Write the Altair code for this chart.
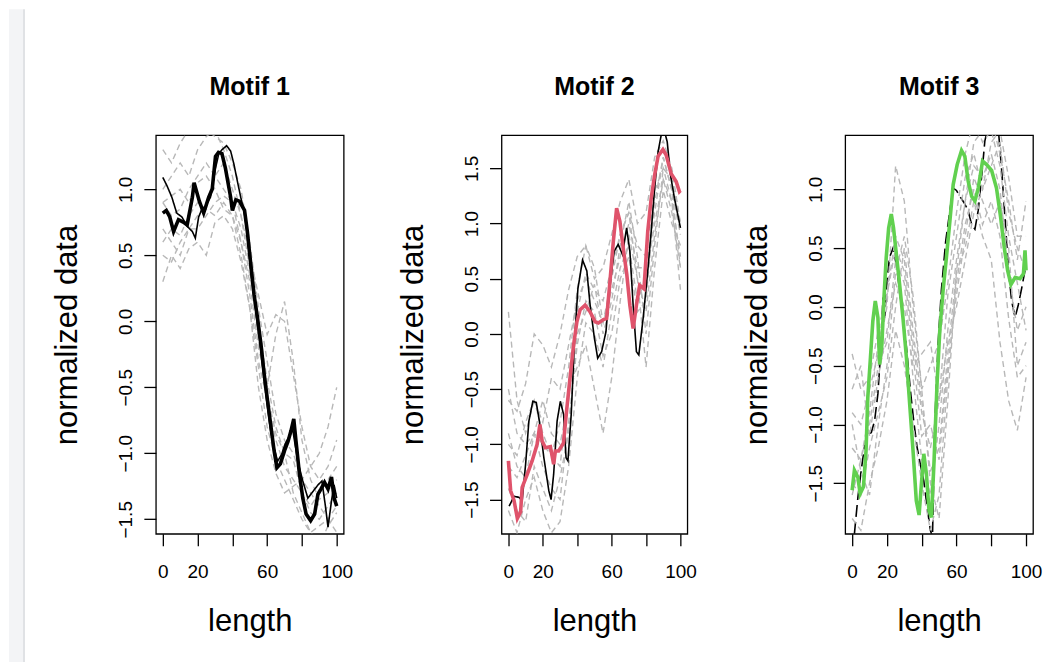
import altair as alt
import pandas as pd

# ---------------- data ----------------
GX = list(range(0, 101, 5))  # x grid for the grey (dashed) instances

# Motif 1
M1_THICK_X = [0, 2, 4, 6.2, 9, 12, 14, 17, 18, 21, 23.5, 26.4, 28.4, 30.3, 32, 34, 36, 39, 40, 42, 44, 47, 48.6,
              50.6, 52.5, 54.4, 56.4, 58.3, 60.2, 62, 64, 65.6, 67.6, 70, 72, 73.7, 75.3, 76.6, 78.6, 80.5, 82.4,
              85, 87.3, 89.2, 91, 93, 95, 97, 98.5, 100]
M1_THICK_Y = [0.82, 0.84, 0.79, 0.68, 0.77, 0.75, 0.73, 0.94, 1.05, 0.91, 0.82, 0.94, 1.0, 1.25, 1.28, 1.27, 1.16,
              0.94, 0.84, 0.92, 0.91, 0.84, 0.68, 0.43, 0.20, 0.03, -0.17, -0.40, -0.60, -0.78, -0.98, -1.11, -1.08,
              -0.98, -0.91, -0.83, -0.74, -0.91, -1.16, -1.34, -1.46, -1.51, -1.46, -1.31, -1.27, -1.22, -1.27,
              -1.18, -1.34, -1.40]
M1_THIN_X = [0, 2.3, 5.2, 8, 11, 14, 17, 18.7, 20.6, 22.5, 24.5, 27.4, 30.3, 32.2, 34, 36.7, 39, 40.9, 42.9, 44.8,
             46.7, 48.6, 50.6, 52.5, 54.4, 56.4, 58.3, 60.2, 62, 64, 66, 68.3, 70.3, 72.8, 74.7, 77.6, 80.5, 83.4,
             86.3, 89.2, 91.5, 93.4, 95, 97, 98.5, 100]
M1_THIN_Y = [1.09, 1.03, 0.94, 0.82, 0.79, 0.72, 0.68, 0.63, 0.79, 0.85, 0.87, 0.94, 1.16, 1.27, 1.30, 1.33, 1.29,
             1.19, 1.06, 0.94, 0.84, 0.66, 0.38, 0.18, -0.02, -0.22, -0.45, -0.65, -0.83, -0.96, -1.06, -1.01,
             -0.93, -0.87, -0.82, -1.06, -1.21, -1.34, -1.29, -1.24, -1.21, -1.39, -1.56, -1.36, -1.24, -1.34]
M1_GREY = [
    [0.9, 0.8, 0.85, 1.0, 1.1, 1.2, 1.1, 1.0, 0.9, 0.6, 0.2, -0.3, -0.6, -0.9, -1.1, -1.2, -1.3, -1.45, -1.5, -1.4, -1.3],
    [1.3, 1.2, 1.35, 1.45, 1.5, 1.45, 1.4, 1.35, 1.2, 1.0, 0.6, 0.1, -0.3, -0.7, -0.9, -1.0, -1.2, -1.3, -1.4, -1.5, -1.4],
    [0.3, 0.5, 0.4, 0.55, 0.6, 0.5, 0.75, 0.8, 0.7, 0.45, 0.1, -0.35, -0.8, -1.05, -1.2, -1.35, -1.5, -1.6, -1.55, -1.5, -1.6],
    [0.7, 0.6, 0.5, 0.7, 0.8, 0.9, 1.1, 1.2, 1.0, 0.8, 0.5, 0.2, -0.1, 0.05, 0.0, -0.4, -0.8, -1.1, -1.2, -1.1, -0.9],
    [0.9, 0.95, 1.0, 0.9, 1.05, 1.1, 1.0, 0.85, 0.8, 0.6, 0.3, -0.2, -0.5, -0.1, 0.15, -0.3, -0.9, -1.2, -1.35, -1.3, -1.2],
    [0.6, 0.7, 0.65, 0.8, 0.9, 0.85, 0.8, 0.9, 0.8, 0.5, 0.1, -0.5, -0.9, -1.15, -1.3, -1.25, -1.2, -1.1, -1.0, -0.8, -0.5],
    [1.0, 1.1, 1.2, 1.1, 1.3, 1.4, 1.45, 1.3, 1.1, 0.8, 0.4, -0.15, -0.55, -0.85, -1.0, -1.3, -1.45, -1.6, -1.7, -1.55, -1.45],
    [0.5, 0.45, 0.6, 0.7, 0.7, 0.8, 0.9, 0.95, 0.9, 0.7, 0.35, 0.0, -0.45, -0.8, -1.0, -1.05, -1.3, -1.4, -1.3, -1.2, -1.1],
]

# Motif 2
M2_THICK_X = [0, 1.3, 3.3, 5.2, 7.1, 8, 11, 13.8, 16.7, 18.3, 19.6, 21.5, 24.4, 26.3, 27.3, 29.2, 32, 34, 36, 37.9,
              39.8, 41.7, 44.6, 47.5, 50.4, 52.3, 55.2, 57.1, 59, 61, 62.9, 64.8, 66.7, 68.8, 70.6, 72.5, 74.4,
              76.3, 78.8, 81, 83, 85, 87, 89.8, 91.7, 94.6, 97.5, 99.4, 100]
M2_THICK_Y = [-1.15, -1.42, -1.51, -1.67, -1.61, -1.39, -1.27, -1.15, -1.0, -0.82, -0.97, -1.03, -1.02, -1.18,
              -1.06, -1.06, -0.99, -0.67, -0.37, -0.10, 0.11, 0.22, 0.26, 0.20, 0.11, 0.10, 0.13, 0.14, 0.47, 0.84,
              1.14, 1.02, 0.78, 0.54, 0.26, 0.05, 0.26, 0.44, 0.41, 0.93, 1.23, 1.44, 1.61, 1.67, 1.62, 1.45, 1.38,
              1.29, 1.30]
M2_THIN_X = [0.4, 3.3, 6.2, 8, 10, 11.9, 14.2, 16.2, 18, 20.6, 23.5, 24.8, 26.3, 28.3, 30.2, 32.1, 33.5, 34.6, 36.5,
             38.5, 40.4, 43.1, 45.6, 47.5, 50, 51.9, 54.2, 56.7, 59, 61.5, 63.8, 66.3, 68.7, 70.6, 72.5, 74.4, 75.8,
             78.3, 81, 83, 85, 87, 88.8, 90.8, 92.3, 94.2, 96.5, 100]
M2_THIN_Y = [-1.56, -1.47, -1.48, -1.51, -1.18, -0.79, -0.61, -0.62, -0.79, -1.12, -1.42, -1.5, -1.27, -0.79,
             -0.61, -0.73, -1.12, -1.15, -0.73, -0.04, 0.41, 0.67, 0.57, 0.26, -0.04, -0.22, -0.16, 0.02, 0.44, 0.75,
             0.81, 0.72, 0.96, 0.75, 0.26, -0.16, -0.19, 0.14, 0.57, 0.93, 1.32, 1.65, 1.80, 1.83, 1.74, 1.44, 1.23,
             0.96]
M2_GREY = [
    [-0.6, -0.7, -0.45, 0.0, -0.1, -0.3, 0.0, 0.4, 0.7, 0.8, 0.5, 0.6, 0.9, 1.2, 1.4, 1.0, 1.1, 1.6, 1.75, 1.5, 1.0],
    [0.2, -0.6, -0.9, -0.6, -0.8, -0.4, -0.5, -0.1, 0.3, 0.5, 0.3, 0.1, 0.5, 0.9, 1.1, 0.8, 0.7, 1.3, 1.5, 1.2, 0.7],
    [-1.6, -1.8, -1.5, -1.3, -1.6, -1.8, -1.7, -1.2, -0.4, 0.1, 0.0, -0.3, 0.2, 0.6, 0.8, 0.3, 0.5, 1.0, 1.4, 1.1, 0.6],
    [-1.2, -1.3, -1.1, -0.9, -1.2, -1.4, -1.5, -0.8, -0.1, 0.3, 0.2, -0.2, 0.0, 0.5, 0.7, 0.2, 0.3, 1.2, 1.6, 1.3, 0.9],
    [-1.0, -1.1, -0.8, -0.6, -0.9, -1.1, -1.2, -0.5, -0.3, -0.1, -0.5, -0.9, -0.4, 0.3, 0.9, 0.5, 0.2, 0.9, 1.4, 1.2, 0.4],
    [-0.9, -1.2, -1.3, -0.9, -0.6, -0.9, -1.0, -0.6, 0.2, 0.55, 0.4, 0.3, 0.6, 0.9, 1.1, 0.5, -0.3, 0.6, 1.3, 1.0, 0.8],
    [-1.4, -1.6, -1.7, -1.2, -1.4, -1.6, -1.3, -0.9, 0.0, 0.2, 0.45, 0.0, 0.3, 0.8, 1.2, 0.7, 0.0, 0.8, 1.5, 1.4, 1.0],
    [-0.5, -0.9, -1.0, -0.9, -1.0, -1.1, -0.8, -0.3, 0.4, 0.8, 0.6, 0.1, 0.4, 0.7, 1.0, 0.6, 0.6, 1.1, 1.6, 1.3, 0.6],
]

# Motif 3
M3_THICK_X = [0, 1.3, 3.3, 4.6, 6.5, 8, 9, 10.4, 11.9, 13.3, 14.8, 15.8, 17.1, 18.3, 19.6, 21, 22.5, 23.8, 25.4,
              27.3, 29.2, 31.2, 33.1, 35, 36.9, 38.5, 39.8, 41.2, 42.7, 44.2, 45.6, 47.1, 48.8, 50.4, 52.3, 54.2,
              56.2, 58.1, 60.4, 62.9, 64.8, 66.7, 68.7, 70.6, 72.5, 75, 77.3, 80.2, 83, 85.4, 87.5, 89.4, 91.3,
              93.7, 96.5, 98.5, 99.4, 100]
M3_THICK_Y = [-1.56, -1.39, -1.45, -1.59, -1.53, -1.22, -0.77, -0.46, -0.12, 0.05, -0.09, -0.49, -0.32, 0.08, 0.42,
              0.67, 0.79, 0.67, 0.45, 0.19, -0.09, -0.43, -0.83, -1.22, -1.65, -1.77, -1.51, -1.25, -1.42, -1.73,
              -1.79, -1.31, -0.66, -0.20, 0.14, 0.42, 0.73, 1.04, 1.21, 1.33, 1.28, 1.07, 0.94, 0.90, 1.01, 1.24,
              1.21, 1.16, 1.01, 0.76, 0.50, 0.31, 0.19, 0.25, 0.24, 0.28, 0.48, 0.31]
M3_THIN_X = [1.3, 3.3, 5.2, 7.1, 9, 11, 12.9, 14.8, 16.7, 17.7, 18.7, 20, 21.5, 23.5, 25.4, 27.3, 29.2, 31.2, 33.5,
             35.4, 37.3, 39.2, 41.2, 43.1, 45, 46.2, 47.5, 49.4, 51.3, 53.8, 56.2, 58.1, 60, 61.9, 64.2, 66.7, 68.7,
             70.6, 72.5, 74.4, 76.3, 77.7, 84, 86, 87.9, 89.8, 91.7, 93.7, 95.6, 97.5, 99.4]
M3_THIN_Y = [-1.93, -1.62, -1.39, -1.19, -1.08, -1.07, -0.97, -0.74, -0.32, 0.08, -0.09, 0.22, 0.42, 0.50, 0.36,
             0.14, -0.09, -0.34, -0.71, -0.97, -1.19, -1.34, -1.48, -1.70, -1.90, -1.96, -1.0, -0.32, 0.14, 0.56,
             0.82, 1.01, 0.99, 0.94, 0.89, 0.82, 0.70, 0.66, 0.82, 1.10, 1.41, 1.50, 1.52, 1.16, 0.76, 0.33, 0.05,
             -0.09, 0.02, 0.16, 0.31]
M3_GREY = [
    [-0.4, -0.7, -0.6, -0.2, 0.1, 0.6, 0.4, -0.3, -0.9, -1.2, -0.8, 0.1, 0.6, 1.1, 1.3, 1.0, 1.2, 1.4, 0.8, 0.5, 0.3],
    [-0.9, -1.0, -0.7, -0.4, 0.0, 1.2, 0.9, 0.0, -0.7, -0.5, -0.3, 0.2, 0.8, 1.3, 1.6, 1.4, 1.5, 1.2, 0.6, 0.2, -0.2],
    [-1.8, -1.9, -1.5, -1.2, -0.8, -0.2, -0.5, -1.0, -1.5, -1.9, -1.6, -0.6, 0.2, 0.7, 1.0, 0.7, 0.9, 0.6, -0.1, -0.6, -0.5],
    [-1.2, -1.3, -1.0, -0.5, -0.3, 0.4, 0.2, -0.6, -1.3, -1.6, -1.0, -0.2, 0.4, 0.9, 1.2, 1.1, 1.3, 1.0, 0.3, -0.2, 0.0],
    [-1.5, -1.6, -1.2, -0.9, -0.6, 0.0, 0.5, -0.2, -0.8, -1.4, -1.2, -0.4, 0.3, 0.5, 0.9, 0.6, 0.4, -0.3, -0.8, -1.05, -0.6],
    [-0.7, -0.5, -1.1, -0.6, -0.2, 0.2, 0.0, -0.5, -0.4, -0.3, -0.8, -0.3, 0.0, 0.4, 0.8, 1.0, 1.4, 1.5, 1.1, 0.6, 0.6],
    [-1.0, -1.4, -1.6, -1.0, -0.5, 0.3, 0.6, 0.1, -0.7, -1.5, -1.8, -0.8, 0.3, 0.9, 1.4, 1.5, 1.6, 1.3, 0.9, 0.4, 0.9],
    [-1.6, -1.3, -0.9, -0.3, 0.1, 0.5, 0.3, -0.4, -1.1, -1.0, -1.3, -0.5, 0.1, 0.6, 1.1, 0.9, 0.7, 0.9, 0.5, -0.5, -0.3],
]

TITLES = ["Motif 1", "Motif 2", "Motif 3"]
Y_DOMAINS = [[-1.61, 1.41], [-1.81, 1.80], [-1.93, 1.46]]
Y_TICKS = [[-1.5, -1.0, -0.5, 0.0, 0.5, 1.0],
           [-1.5, -1.0, -0.5, 0.0, 0.5, 1.0, 1.5],
           [-1.5, -1.0, -0.5, 0.0, 0.5, 1.0]]
X_TICKS = [0, 20, 40, 60, 80, 100]
THICK_COLORS = ["#000000", "#DF536B", "#61D04F"]
PANEL_W = [188, 186, 188]
PANEL_H = 399

FONT = "Liberation Sans"


def grey_df(rows):
    recs = []
    for i, r in enumerate(rows):
        for x, y in zip(GX, r):
            recs.append({"x": x, "y": y, "s": i})
    return pd.DataFrame(recs)


def panel(k, thick_x, thick_y, thin_x, thin_y, grey_rows, strip=False):
    xs = alt.Scale(domain=[-4, 104], nice=False, zero=False)
    ys = alt.Scale(domain=Y_DOMAINS[k], nice=False, zero=False)
    xax = alt.Axis(values=X_TICKS, tickCount=12,
                   labelExpr="datum.value == 40 || datum.value == 80 ? '' : datum.label",
                   grid=False, domain=False, tickSize=12, tickColor="black", tickWidth=1.3,
                   labelFont=FONT, labelFontSize=19, labelColor="black", labelPadding=17,
                   labelFlush=False, labelOverlap=False,
                   title="length", titleFont=FONT, titleFontSize=31, titleFontWeight="normal",
                   titleColor="black", titlePadding=25)
    yax = alt.Axis(values=Y_TICKS[k], tickCount=12, format=".1f", grid=False, domain=False, tickSize=12,
                   tickColor="black", tickWidth=1.3, labelFont=FONT, labelFontSize=19,
                   labelColor="black", labelAngle=270, labelAlign="center", labelBaseline="bottom",
                   labelPadding=8, labelFlush=False, labelOverlap=False,
                   title="normalized data", titleFont=FONT, titleFontSize=31,
                   titleFontWeight="normal", titleColor="black", titlePadding=33)

    g = alt.Chart(grey_df(grey_rows)).mark_line(
        color="#B8B8B8", strokeWidth=1.4, strokeDash=[6, 4], clip=True
    ).encode(
        x=alt.X("x:Q", scale=xs, axis=xax),
        y=alt.Y("y:Q", scale=ys, axis=yax),
        detail="s:N",
    )
    thin_dash = [12, 5] if k == 2 else [1, 0]
    thin = alt.Chart(pd.DataFrame({"x": thin_x, "y": thin_y})).mark_line(
        color="black", strokeWidth=1.6, strokeDash=thin_dash, clip=True
    ).encode(x=alt.X("x:Q", scale=xs, axis=xax), y=alt.Y("y:Q", scale=ys, axis=yax))
    thick = alt.Chart(pd.DataFrame({"x": thick_x, "y": thick_y})).mark_line(
        color=THICK_COLORS[k], strokeWidth=3.6, clip=True
    ).encode(x=alt.X("x:Q", scale=xs, axis=xax), y=alt.Y("y:Q", scale=ys, axis=yax))

    one = pd.DataFrame({"a": [0]})
    title = alt.Chart(one).mark_text(
        text=TITLES[k], font=FONT, fontSize=25, fontWeight="bold", color="black",
        align="center", baseline="middle"
    ).encode(x=alt.value(PANEL_W[k] / 2), y=alt.value(-48))

    layers = []
    if strip:
        white = alt.Chart(one).mark_rect(color="white").encode(
            x=alt.value(-155), x2=alt.value(-147), y=alt.value(-134), y2=alt.value(528))
        band = alt.Chart(one).mark_rect(color="#F3F4F6").encode(
            x=alt.value(-147), x2=alt.value(-133), y=alt.value(-126), y2=alt.value(528))
        edge = alt.Chart(one).mark_rect(color="#E0E2E5").encode(
            x=alt.value(-133), x2=alt.value(-131), y=alt.value(-126), y2=alt.value(528))
        layers += [white, band, edge]
    if k == 2:
        layers += [thin, g, thick]
    else:
        layers += [g, thin, thick]
    layers.append(title)
    return alt.layer(*layers).properties(width=PANEL_W[k], height=PANEL_H)


p1 = panel(0, M1_THICK_X, M1_THICK_Y, M1_THIN_X, M1_THIN_Y, M1_GREY, strip=True)
p2 = panel(1, M2_THICK_X, M2_THICK_Y, M2_THIN_X, M2_THIN_Y, M2_GREY)
p3 = panel(2, M3_THICK_X, M3_THICK_Y, M3_THIN_X, M3_THIN_Y, M3_GREY)

chart = alt.hconcat(p1, p2, p3, spacing=158, bounds="flush").properties(
    padding=0, background="white"
).configure_view(stroke="black", strokeWidth=1.3)

chart.save("out.html", embed_options={"renderer": "svg", "actions": False})
